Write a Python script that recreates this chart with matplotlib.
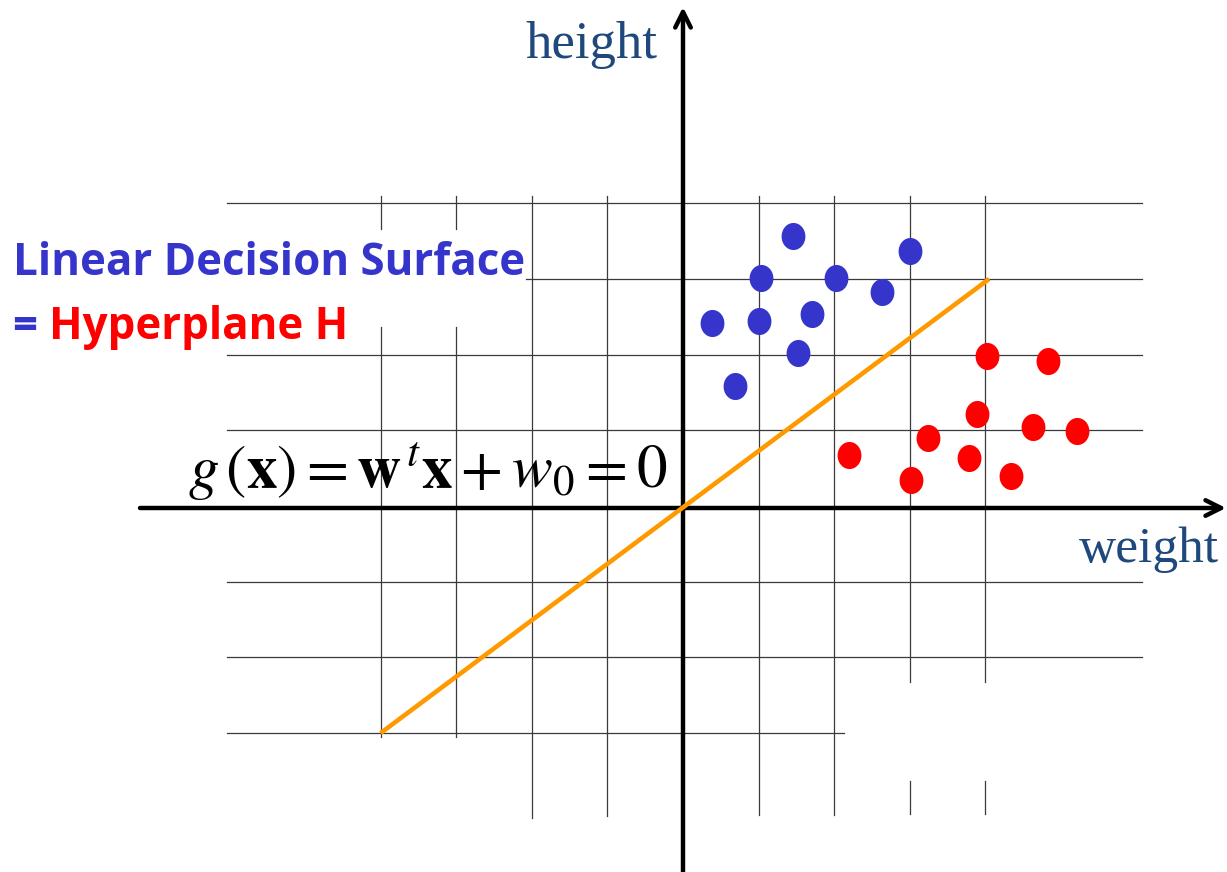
import numpy as np
import matplotlib
matplotlib.use('Agg')
from matplotlib import pyplot as plt
from matplotlib.path import Path

### Diagram data (grid units, origin at the axes crossing) ###
blue_x = [1.45, 1.03, 2.02, 3.00, 2.63, 0.38, 1.01, 1.71, 1.52, 0.69]
blue_y = [3.57, 3.01, 3.01, 3.37, 2.83, 2.42, 2.44, 2.54, 2.02, 1.58]
red_x = [4.02, 4.83, 3.89, 3.24, 4.63, 5.21, 2.20, 3.78, 3.02, 4.34]
red_y = [1.98, 1.91, 1.21, 0.90, 1.05, 0.99, 0.67, 0.64, 0.35, 0.39]

# hyperplane end points
line_x = [-4, 4.05]
line_y = [-3, 3.0]

# horizontal grid segments: (y, x_start, x_end)
hgrid = [(4, -6.03, 6.07), (3, -2.08, 6.07), (2, -6.03, 6.07), (1, -6.03, 6.07),
         (-1, -6.03, 6.07), (-2, -6.03, 6.07), (-3, -6.03, 2.13)]
# vertical grid segments: (x, y_start, y_end)
vgrid = [(-4, 4.10, 3.66), (-4, 2.36, -3.05), (-3, 4.10, 3.66), (-3, 2.36, -3.05),
         (-2, 4.10, -4.12), (-1, 4.10, -4.10), (1, 4.10, -4.08), (2, 4.10, -4.08),
         (3, 4.10, -2.32), (3, -3.63, -4.07), (4, 4.10, -2.32), (4, -3.63, -4.07)]

UX, UY = 75.6, 75.7  # pixels per grid unit
OX, OY = 683, 506    # grid origin in pixels
W, H = 1227, 872


def px(x, y):
    # pixel position -> data coords (for text and axis placement)
    return (x - OX) / UX, (OY - y) / UY


fig = plt.figure(figsize=(W / 100, H / 100), dpi=100)
ax = fig.add_axes([0, 0, 1, 1])
ax.set_xlim(-OX / UX, (W - OX) / UX)
ax.set_ylim((OY - H) / UY, OY / UY)
ax.axis('off')

grid_col = '#3a3a3a'
for y, x0, x1 in hgrid:
    ax.plot([x0, x1], [y, y], color=grid_col, lw=0.9, zorder=1)
for x, y0, y1 in vgrid:
    ax.plot([x, x], [y0, y1], color=grid_col, lw=0.9, zorder=1)

# axes with arrows
ax.annotate('', xy=px(1226, 508), xytext=px(140, 508),
            arrowprops=dict(arrowstyle='->', lw=3.2, color='black',
                            mutation_scale=28, shrinkA=0, shrinkB=0), zorder=3)
ax.annotate('', xy=px(OX, 7), xytext=px(OX, 872),
            arrowprops=dict(arrowstyle='->', lw=3.2, color='black',
                            mutation_scale=28, shrinkA=0, shrinkB=0), zorder=3)

ax.plot(line_x, line_y, color='#FF9900', lw=3.3, solid_capstyle='butt', zorder=4)

t = np.linspace(0, 2 * np.pi, 64)
oval = Path(np.column_stack([0.88 * np.cos(t), np.sin(t)]))
ax.scatter(blue_x, blue_y, marker=oval, s=380, color='#3535CC', lw=0, zorder=5)
ax.scatter(red_x, red_y, marker=oval, s=380, color='#FF0000', lw=0, zorder=5)

### Labels ###
axis_col = '#1F497D'
ax.text(*px(657, 58), 'height', color=axis_col, family='Liberation Serif',
        size=38, ha='right', va='baseline')
ax.text(*px(1219, 562), 'weight', color=axis_col, family='Liberation Serif',
        size=37, ha='right', va='baseline')

lab_font = dict(family='Open Sans', weight='bold', size=31.6)
ax.text(*px(13, 275), 'Linear Decision Surface', color='#3535CC',
        ha='left', va='baseline', **lab_font)
t2 = ax.text(*px(13, 339), '= ', color='#3535CC',
             ha='left', va='baseline', **lab_font)
ax.annotate('Hyperplane H', xy=(1, 0), xycoords=t2, color='#FF0000',
            ha='left', va='bottom', **lab_font)

plt.rcParams['mathtext.fontset'] = 'stix'
ax.text(*px(188, 488), r'$g\,(\mathbf{x}) = \mathbf{w}^{\,t}\mathbf{x} + w_{0} = 0$',
        color='black', size=44, ha='left', va='baseline', zorder=6)

fig.savefig('out.png', dpi=100)
